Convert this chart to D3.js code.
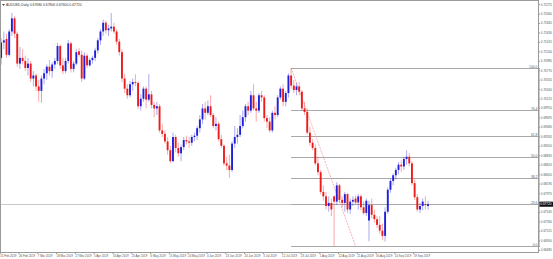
<!DOCTYPE html>
<html><head><meta charset="utf-8">
<script src="https://cdn.jsdelivr.net/npm/d3@7"></script>
<style>html,body{margin:0;padding:0;background:#fff;overflow:hidden}svg{display:block}</style>
</head><body>
<svg id="c" width="553" height="259"></svg>
<script>
// ---- data (AUDUSD, Daily) ----
const opens = [.7105,.7140,.7148,.7112,.7165,.7195,.7160,.7092,.7105,.7098,.7082,.7092,.7058,.7065,.7040,.7030,.7058,.7070,.7085,.7075,
.7090,.7098,.7132,.7088,.7075,.7098,.7138,.7080,.7092,.7120,.7112,.7058,.7110,.7088,.7100,.7105,.7122,.7145,.7165,.7185,
.7168,.7172,.7176,.7165,.7142,.7118,.7058,.7035,.7020,.7045,.7050,.7048,.6995,.7012,.7035,.7010,.7022,.6998,.6990,.6995,
.6940,.6932,.6915,.6895,.6870,.6925,.6900,.6888,.6902,.6918,.6915,.6912,.6925,.6928,.6945,.6965,.6990,.6980,.6995,.6975,
.6950,.6955,.6920,.6905,.6865,.6860,.6850,.6910,.6925,.6930,.6950,.6970,.6995,.6985,.7020,.6990,.6985,.7020,.7015,.6968,
.6960,.6940,.6980,.6975,.7015,.7035,.7005,.7025,.7065,.7042,.7032,.7040,.7028,.6990,.6982,.6935,.6912,.6900,.6865,.6845,
.6800,.6790,.6768,.6775,.6790,.6778,.6815,.6782,.6775,.6795,.6760,.6778,.6785,.6776,.6790,.6765,.6752,.6735,.6770,.6748,
.6738,.6725,.6712,.6700,.6755,.6805,.6825,.6838,.6850,.6862,.6858,.6875,.6880,.6865,.6820,.6788,.6760,.6768,.6772,.6768];
const highs = [.7150,.7165,.7160,.7170,.7207,.7200,.7165,.7130,.7125,.7110,.7105,.7098,.7075,.7070,.7055,.7065,.7080,.7090,.7100,.7095,
.7105,.7139,.7136,.7105,.7105,.7146,.7142,.7098,.7125,.7128,.7122,.7118,.7115,.7105,.7110,.7128,.7150,.7170,.7192,.7190,
.7180,.7207,.7185,.7170,.7148,.7125,.7068,.7045,.7052,.7058,.7068,.7052,.7022,.7040,.7040,.7068,.7030,.7005,.7005,.7000,
.6955,.6940,.6925,.6905,.6935,.6930,.6912,.6908,.6925,.6928,.6925,.6930,.6935,.6950,.6975,.7000,.7005,.7008,.7020,.6980,
.6970,.6960,.6930,.6908,.6880,.6885,.6915,.6950,.6945,.6975,.6985,.7000,.7005,.7030,.7045,.7005,.7025,.7030,.7020,.6975,
.6970,.6985,.6995,.7020,.7040,.7045,.7030,.7070,.7082,.7055,.7048,.7050,.7032,.7005,.6990,.6948,.6920,.6908,.6880,.6850,
.6815,.6800,.6790,.6785,.6792,.6822,.6818,.6790,.6800,.6798,.6785,.6790,.6792,.6795,.6795,.6778,.6785,.6780,.6785,.6760,
.6745,.6745,.6728,.6765,.6810,.6830,.6842,.6855,.6868,.6872,.6880,.6895,.6888,.6870,.6828,.6795,.6775,.6785,.6790,.6780];
const lows = [.7090,.7125,.7105,.7108,.7155,.7150,.7085,.7080,.7090,.7075,.7065,.7050,.7040,.7030,.7005,.7003,.7045,.7055,.7065,.7060,
.7080,.7090,.7080,.7068,.7070,.7092,.7072,.7072,.7088,.7108,.7050,.7055,.7082,.7085,.7092,.7098,.7115,.7135,.7155,.7160,
.7155,.7165,.7160,.7135,.7110,.7050,.7025,.7012,.7015,.7030,.7040,.6988,.6985,.7005,.6990,.7005,.6990,.6970,.6975,.6935,
.6925,.6910,.6885,.6865,.6868,.6890,.6880,.6870,.6895,.6908,.6900,.6905,.6915,.6918,.6935,.6955,.6965,.6975,.6970,.6945,
.6940,.6915,.6900,.6860,.6850,.6832,.6845,.6900,.6910,.6925,.6945,.6960,.6975,.6980,.6985,.6960,.6980,.7005,.6960,.6945,
.6935,.6935,.6965,.6970,.7010,.6995,.6995,.7015,.7035,.7025,.7020,.7020,.6985,.6975,.6930,.6905,.6895,.6860,.6838,.6795,
.6780,.6760,.6755,.6745,.6677,.6770,.6775,.6765,.6755,.6752,.6750,.6768,.6772,.6760,.6758,.6748,.6745,.6688,.6740,.6730,
.6718,.6705,.6690,.6687,.6750,.6798,.6815,.6828,.6840,.6845,.6850,.6862,.6858,.6815,.6782,.6755,.6752,.6758,.6760,.6760];
const closes = [.7140,.7145,.7112,.7165,.7195,.7160,.7092,.7105,.7098,.7082,.7092,.7058,.7065,.7040,.7030,.7058,.7070,.7085,.7075,.7090,
.7098,.7132,.7088,.7075,.7098,.7138,.7080,.7092,.7118,.7112,.7058,.7110,.7088,.7100,.7105,.7122,.7145,.7165,.7185,.7168,
.7172,.7176,.7165,.7142,.7118,.7058,.7035,.7020,.7045,.7050,.7048,.6995,.7012,.7035,.7010,.7022,.6998,.6990,.6995,.6940,
.6932,.6915,.6895,.6870,.6925,.6900,.6888,.6902,.6918,.6915,.6912,.6925,.6928,.6945,.6965,.6990,.6980,.6995,.6975,.6950,
.6955,.6920,.6905,.6865,.6860,.6850,.6910,.6925,.6930,.6950,.6970,.6995,.6985,.7020,.6990,.6985,.7020,.7015,.6968,.6960,
.6940,.6980,.6975,.7015,.7035,.7005,.7025,.7065,.7042,.7032,.7040,.7028,.6990,.6982,.6935,.6912,.6900,.6865,.6845,.6800,
.6790,.6768,.6775,.6760,.6778,.6815,.6782,.6775,.6795,.6760,.6778,.6782,.6776,.6790,.6765,.6752,.6780,.6770,.6748,.6738,
.6725,.6712,.6700,.6755,.6805,.6825,.6838,.6850,.6862,.6858,.6875,.6880,.6865,.6820,.6788,.6760,.6768,.6778,.6770,.6772];

const dateTickIndex = [0,7,14,21,28,35,42,49,56,63,70,77,84,91,98,105,112,119,126,133,140,147,154];
const dateTickLabels = ["15 Feb 2019","26 Feb 2019","7 Mar 2019","18 Mar 2019","27 Mar 2019","5 Apr 2019","16 Apr 2019","25 Apr 2019",
"6 May 2019","15 May 2019","24 May 2019","4 Jun 2019","13 Jun 2019","24 Jun 2019","3 Jul 2019","12 Jul 2019","23 Jul 2019",
"1 Aug 2019","12 Aug 2019","21 Aug 2019","30 Aug 2019","10 Sep 2019","19 Sep 2019"];
const priceTicks = [0.72275,0.72060,0.71845,0.71630,0.71415,0.71200,0.70985,0.70770,0.70555,0.70340,0.70125,0.69910,0.69695,0.69480,
0.69265,0.69050,0.68835,0.68620,0.68405,0.68190,0.67975,0.67760,0.67545,0.67330,0.67115,0.66900,0.66685];

const fibHigh = 0.7082, fibLow = 0.6677;
const fibHighIndex = 108, fibLowIndex = 132;
const fibLevels = [100.0, 76.4, 61.8, 50.0, 38.2, 23.6, 0.0];
const fibNames = ["100.0","76.4","61.8","50.0","38.2","23.6","0.0"];
const symbolTitle = "AUDUSD,Daily  0.67680 0.67800 0.67600 0.67720";
const lastPrice = 0.67720;

// ---- layout ----
const FONT = "Liberation Sans, Arial, sans-serif";
const svg = d3.select("#c");
const plotL = 0.5, plotR = 538.5, plotT = 0.5, plotB = 252.5;
const N = closes.length;
const x = d3.scaleBand().domain(d3.range(N)).range([0.2, 0.2 + N * 2.68]).paddingInner(0.3).paddingOuter(0);
const xc = i => x(i) + x.bandwidth() / 2;
const y = d3.scaleLinear().domain([fibLow, fibHigh]).range([246, 68]);

svg.append("rect").attr("x",0).attr("y",0).attr("width",553).attr("height",259).attr("fill","#fff");

// bid line
svg.append("line").attr("x1",plotL).attr("x2",plotR).attr("y1",Math.round(y(lastPrice))+0.5).attr("y2",Math.round(y(lastPrice))+0.5)
  .attr("stroke","#c8c8c8").attr("stroke-width",1);

// fibonacci levels
const fibG = svg.append("g");
fibLevels.forEach((lv,i) => {
  const p = fibLow + (fibHigh - fibLow) * lv / 100;
  const yy = Math.round(y(p)) + 0.5;
  fibG.append("line").attr("x1", xc(fibHighIndex)).attr("x2", plotR).attr("y1", yy).attr("y2", yy)
    .attr("stroke","#a8a8a8").attr("stroke-width",1);
  fibG.append("text").attr("x", plotR - 1).attr("y", yy - 1).attr("text-anchor","end")
    .attr("font-family",FONT).attr("font-size",3.4).attr("fill","#666").text(fibNames[i]);
});
// fib trend line
fibG.append("line").attr("x1", xc(fibHighIndex)).attr("y1", y(fibHigh)).attr("x2", xc(fibLowIndex)).attr("y2", y(fibLow))
  .attr("stroke","#f2a0a0").attr("stroke-width",0.8).attr("stroke-dasharray","2,1");

// candles
const cg = svg.append("g");
const idx = d3.range(N);
const col = i => closes[i] >= opens[i] ? "#1f1fdc" : "#ec1c1c";
cg.selectAll("line.w").data(idx).join("line").attr("class","w")
  .attr("x1", i => xc(i)).attr("x2", i => xc(i)).attr("y1", i => y(highs[i])).attr("y2", i => y(lows[i]))
  .attr("stroke", i => col(i)).attr("stroke-opacity",0.55).attr("stroke-width",0.7);
cg.selectAll("rect.b").data(idx).join("rect").attr("class","b")
  .attr("x", i => x(i)).attr("width", x.bandwidth())
  .attr("y", i => y(Math.max(opens[i], closes[i])))
  .attr("height", i => Math.max(0.8, Math.abs(y(opens[i]) - y(closes[i]))))
  .attr("fill", i => col(i));

// frame
svg.append("rect").attr("x",plotL).attr("y",plotT).attr("width",plotR-plotL).attr("height",plotB-plotT)
  .attr("fill","none").attr("stroke","#9a9a9a").attr("stroke-width",1);

// right price axis
const yAxis = d3.axisRight(y).tickValues(priceTicks).tickFormat(d3.format(".5f")).tickSize(1.5).tickPadding(0.8);
const ya = svg.append("g").attr("transform",`translate(${plotR},0)`).call(yAxis);
ya.select(".domain").attr("stroke","#9a9a9a");
ya.selectAll(".tick line").attr("stroke","#9a9a9a");
ya.selectAll("text").attr("font-family",FONT).attr("font-size",3.1).attr("fill","#555");

// current price box
const py = y(lastPrice);
svg.append("rect").attr("x",plotR+1).attr("y",py-2.5).attr("width",13.5).attr("height",5).attr("fill","#111");
svg.append("text").attr("x",plotR+1.8).attr("y",py+1.1).attr("font-family",FONT).attr("font-size",3.1)
  .attr("fill","#fff").text(d3.format(".5f")(lastPrice));

// bottom date axis
const xAxis = d3.axisBottom(x).tickValues(dateTickIndex).tickFormat((d,i) => dateTickLabels[i]).tickSize(1.5).tickPadding(0.8);
const xa = svg.append("g").attr("transform",`translate(0,${plotB})`).call(xAxis);
xa.select(".domain").remove();
xa.selectAll(".tick line").attr("stroke","#9a9a9a").attr("transform",`translate(${-x.bandwidth()/2},0)`);
xa.selectAll("text").attr("text-anchor","start").attr("dx",-1).attr("font-family",FONT)
  .attr("font-size",2.9).attr("fill","#555");

// title
svg.append("path").attr("d","M2,4 L5,4 L3.5,6 Z").attr("fill","#555");
svg.append("text").attr("x",6).attr("y",6).attr("font-family",FONT).attr("font-size",3.4)
  .attr("fill","#333").text(symbolTitle);
</script>
</body></html>
